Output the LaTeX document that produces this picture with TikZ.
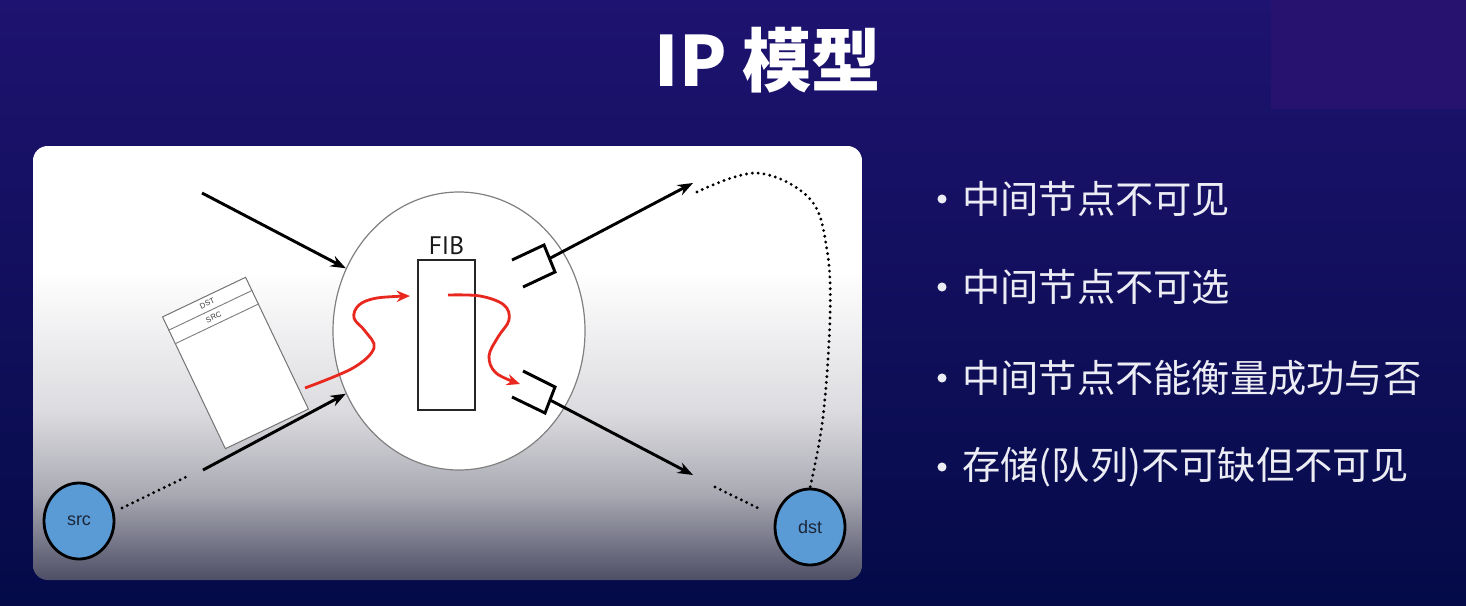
\documentclass[tikz,border=0pt]{standalone}
\usepackage{fontspec}
\setmainfont{Liberation Sans}
\newfontfamily\cjk{Noto Sans CJK SC}
\newfontfamily\fibfont{PT Sans}
\usetikzlibrary{arrows.meta,shapes.geometric,calc}
\definecolor{bgtop}{HTML}{1E1370}
\definecolor{bgmid}{HTML}{10107A}
\definecolor{bgbot}{HTML}{040B48}
\definecolor{cornerbox}{HTML}{27136F}
\definecolor{panelA}{HTML}{DCDCE0}
\definecolor{panelB}{HTML}{A8A8B2}
\definecolor{panelC}{HTML}{4E4F66}
\definecolor{hostc}{HTML}{5B9BD5}
\definecolor{hosttext}{HTML}{1A2638}
\definecolor{redc}{HTML}{E8281E}
\definecolor{bulletc}{HTML}{ECECF4}
\begin{document}
\begin{tikzpicture}[x=0.75pt,y=-0.75pt,
  arr/.style={line width=2.2pt, -{Stealth[length=11.5pt,width=8.5pt]}},
  redarr/.style={draw=redc, line width=2.1pt, -{Stealth[length=10pt,width=8.5pt]}},
  dots/.style={line width=2.4pt, line cap=round, dash pattern=on 0pt off 4.4pt},
  port/.style={line width=2.2pt, line join=miter},
  host/.style={ellipse, draw=black, line width=2.1pt, fill=hostc,
    minimum width=52.5pt, minimum height=57pt, inner sep=0pt,
    font=\fontsize{13.5}{15}\selectfont, text=hosttext},
  item/.style={anchor=west, text=bulletc, font=\cjk\fontsize{28.7}{34}\selectfont, inner sep=0pt},
  dot/.style={circle, fill=bulletc, minimum size=6.8pt, inner sep=0pt}]
\useasboundingbox (0,0) rectangle (1466,606);

% slide background
\shade[top color=bgtop, middle color=bgmid, bottom color=bgbot] (0,0) rectangle (1466,606);
\fill[cornerbox] (1271,0) rectangle (1466,109);

% title
\node[text=white, font=\cjk\bfseries\fontsize{52}{60}\selectfont] (title) at (768,60) {IP 模型};

% grey panel behind the drawing
\begin{scope}
  \clip[rounded corners=11pt] (33,146) rectangle (862,580);
  \fill[white] (33,146) rectangle (862,271);
  \shade[top color=white, bottom color=panelA] (33,270) rectangle (862,411);
  \shade[top color=panelA, bottom color=panelB] (33,410) rectangle (862,496);
  \shade[top color=panelB, bottom color=panelC] (33,495) rectangle (862,580);
\end{scope}

% router with its forwarding table
\node[ellipse, draw=black!50, line width=0.9pt, fill=white,
  minimum width=189pt, minimum height=208.5pt] (router) at (459,331) {};
\node[draw=black!85, line width=1.3pt, minimum width=42.75pt, minimum height=112.5pt,
  inner sep=0pt] (fib) at (446.5,335) {};
\node[font=\fibfont\fontsize{19}{21}\selectfont, text=black!90, anchor=south,
  inner sep=0pt] (fiblabel) at (446.5,255) {FIB};

% end hosts
\node[host] (src) at (79,521) {src};
\node[host] (dst) at (810,527) {dst};

% incoming links
\coordinate (in1) at (202,193);
\coordinate (in2) at (203,470);
\draw[arr] (in1) -- (router.151);
\draw[arr] (in2) -- (router.209.7);

% output ports
\draw[port] (512,260) -- (544,245) -- (555,272) -- (523,287);
\draw[port] (523,371) -- (555,387) -- (545,413) -- (512,397);
\coordinate (pu) at (549.5,258.5);
\coordinate (pl) at (550,400);
\coordinate (eu) at (693,183);
\coordinate (el) at (693,475);
\draw[arr] (pu) -- (eu);
\draw[arr] (pl) -- (el);

% dotted continuations
\coordinate (s1) at (122,508);
\coordinate (s2) at (188,476);
\draw[dots] (s1) -- (s2);
\coordinate (d1) at (715,487);
\coordinate (d2) at (760,509);
\draw[dots] (d1) -- (d2);
\coordinate (c0) at (697,192);
\draw[dots] plot[smooth, tension=0.6] coordinates {(c0) (757,173) (810,199) (827,250) (830,317) (823,417) (dst.north)};

% packet with its header fields
\node[draw=black!55, line width=0.75pt, fill=white, minimum width=69pt, minimum height=109.5pt,
  inner sep=0pt, rotate=25.5] (pkt) at (235.5,363) {};
\draw[black!50, line width=0.7pt] ($(pkt.north west)!0.103!(pkt.south west)$) -- ($(pkt.north east)!0.103!(pkt.south east)$);
\draw[black!50, line width=0.7pt] ($(pkt.north west)!0.205!(pkt.south west)$) -- ($(pkt.north east)!0.205!(pkt.south east)$);
\node[rotate=25.5, font=\fontsize{5.8}{6}\selectfont, text=black!75, inner sep=0pt] (dstf) at ($(pkt.north)!0.052!(pkt.south)$) {DST};
\node[rotate=25.5, font=\fontsize{5.8}{6}\selectfont, text=black!75, inner sep=0pt] (srcf) at ($(pkt.north)!0.155!(pkt.south)$) {SRC};

% path of the packet through the router
\draw[redarr] plot[smooth, tension=0.6] coordinates {(305,388) (353,368) (374,348) (365,331) (354,318) (359,305) (377,298) (410,296)};
\draw[redarr] plot[smooth, tension=0.6] coordinates {(448,295) (480,296) (504,305) (509,320) (498,337) (489,356) (496,373) (520,384)};

% bullet list
\node[dot] (b1) at (942,199) {};
\node[item] (t1) at (962,199) {中间节点不可见};
\node[dot] (b2) at (942,287) {};
\node[item] (t2) at (962,287) {中间节点不可选};
\node[dot] (b3) at (942,378) {};
\node[item] (t3) at (962,378) {中间节点不能衡量成功与否};
\node[dot] (b4) at (942,467) {};
\node[item] (t4) at (962,467) {存储(队列)不可缺但不可见};
\end{tikzpicture}
\end{document}
